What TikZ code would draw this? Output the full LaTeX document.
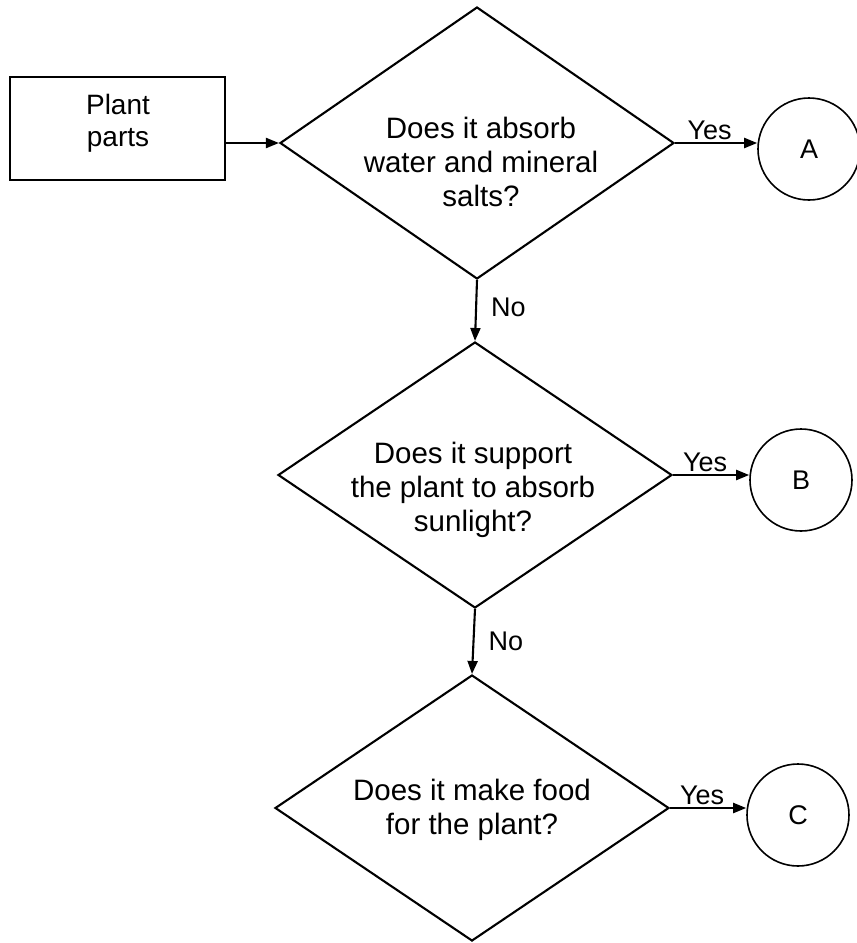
\documentclass[tikz,border=0pt]{standalone}
\usepackage{fontspec}
\setmainfont{Liberation Sans}
\usetikzlibrary{shapes.geometric,arrows.meta}
\begin{document}
\begin{tikzpicture}[x=1pt,y=-1pt,line width=2.1pt,
  box/.style={draw, rectangle, minimum width=215pt, minimum height=103pt, inner sep=0pt},
  boxtext/.style={align=center, font=\fontsize{28}{32}\selectfont, inner sep=0pt},
  decision/.style={draw, diamond, inner sep=0pt, minimum width=394pt, minimum height=#1},
  qtext/.style={align=center, font=\fontsize{29.5}{34}\selectfont, inner sep=0pt},
  endpt/.style={draw, circle, line width=1.6pt, minimum size=102pt, inner sep=0pt, font=\fontsize{27}{30}\selectfont},
  lbl/.style={font=\fontsize{27}{30}\selectfont, inner sep=2pt},
  flow/.style={-{Triangle[length=13pt,width=10pt]}}
]
\useasboundingbox (0,0) rectangle (857,943);
% start box
\node[box] (start) at (117.5,128.5) {};
\node[boxtext] (starttext) at (118,123) {Plant\\parts};
% decisions
\node[decision=272pt] (d1) at (477,143) {};
\node[qtext] (q1) at (481,162) {Does it absorb\\water and mineral\\salts?};
\node[decision=266pt] (d2) at (475,475) {};
\node[qtext] (q2) at (473,490) {Does it support\\the plant to absorb\\sunlight?};
\node[decision=266pt] (d3) at (472,808) {};
\node[qtext] (q3) at (472,810) {Does it make food\\for the plant?};
% end points
\node[endpt] (A) at (809,149) {A};
\node[endpt] (B) at (801,480) {B};
\node[endpt] (C) at (798,815) {C};
% connectors
\draw[flow] (d1.west -| start.east) -- (d1.west);
\draw[flow] (d1.east) -- node[lbl, above, pos=0.42] {Yes} (d1.east -| A.west);
\draw[flow] (d2.east) -- node[lbl, above, pos=0.42] {Yes} (d2.east -| B.west);
\draw[flow] (d3.east) -- node[lbl, above, pos=0.42] {Yes} (d3.east -| C.west);
\draw[flow] (d1.south) -- node[lbl, right=12pt, pos=0.45] {No} (d2.north);
\draw[flow] (d2.south) -- node[lbl, right=12pt, pos=0.5] {No} (d3.north);
\end{tikzpicture}
\end{document}
